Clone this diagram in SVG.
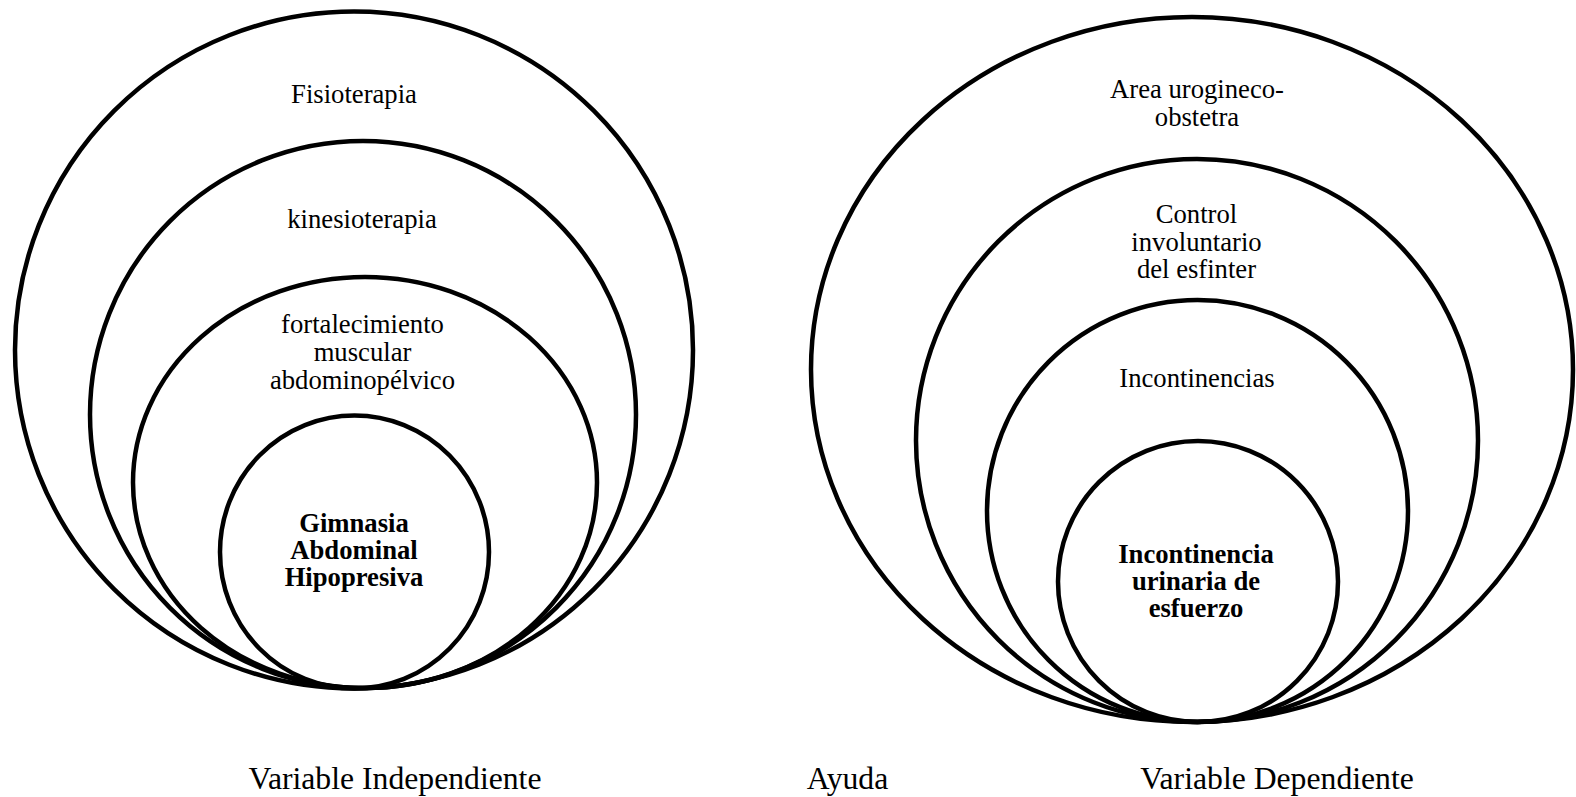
<svg xmlns="http://www.w3.org/2000/svg" width="1576" height="797" viewBox="0 0 1576 797">
<style>
.ring{fill:none;stroke:#000;stroke-width:4.5}
.t{font-family:"Liberation Serif","Times New Roman",serif;font-size:26.67px;fill:#000;text-anchor:middle}
.b{font-weight:bold}
.cap{font-family:"Liberation Serif","Times New Roman",serif;font-size:31.7px;fill:#000;text-anchor:middle}
</style>
<rect width="1576" height="797" fill="#fff"/>
<g id="left-set">
<g id="fisioterapia">
<ellipse class="ring" cx="354" cy="350" rx="339" ry="338.5"/>
<text class="t" x="354" y="103">Fisioterapia</text>
</g>
<g id="kinesioterapia">
<ellipse class="ring" cx="363" cy="414.5" rx="273" ry="273.5"/>
<text class="t" x="362" y="228">kinesioterapia</text>
</g>
<g id="fortalecimiento">
<ellipse class="ring" cx="365" cy="482.5" rx="232" ry="205.5"/>
<text class="t" x="362.5" y="333">fortalecimiento</text>
<text class="t" x="362.5" y="361">muscular</text>
<text class="t" x="362.5" y="388.5">abdominopélvico</text>
</g>
<g id="gimnasia">
<ellipse class="ring" cx="354.5" cy="552" rx="134.5" ry="136.5"/>
<text class="t b" x="354" y="531.5">Gimnasia</text>
<text class="t b" x="354" y="558.5">Abdominal</text>
<text class="t b" x="354" y="585.5">Hipopresiva</text>
</g>
</g>
<g id="right-set">
<g id="area">
<ellipse class="ring" cx="1192" cy="369.5" rx="381" ry="352.5"/>
<text class="t" x="1197" y="98">Area urogineco-</text>
<text class="t" x="1197" y="126">obstetra</text>
</g>
<g id="control">
<ellipse class="ring" cx="1197" cy="440.5" rx="281" ry="281.5"/>
<text class="t" x="1196.5" y="223">Control</text>
<text class="t" x="1196.5" y="250.5">involuntario</text>
<text class="t" x="1196.5" y="277.5">del esfinter</text>
</g>
<g id="incontinencias">
<ellipse class="ring" cx="1197.5" cy="511" rx="210.5" ry="211"/>
<text class="t" x="1197" y="387">Incontinencias</text>
</g>
<g id="iue">
<ellipse class="ring" cx="1198" cy="581.5" rx="140" ry="140.5"/>
<text class="t b" x="1196" y="562.5">Incontinencia</text>
<text class="t b" x="1196" y="590">urinaria de</text>
<text class="t b" x="1196" y="617">esfuerzo</text>
</g>
</g>
<g id="connectors"></g>
<g id="labels">
<text class="cap" x="395" y="789">Variable Independiente</text>
<text class="cap" x="847.5" y="789">Ayuda</text>
<text class="cap" x="1277" y="789">Variable Dependiente</text>
</g>
</svg>
